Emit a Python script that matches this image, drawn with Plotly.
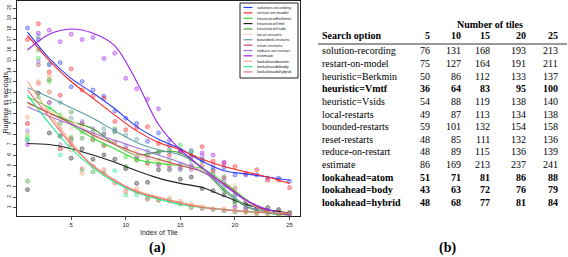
import plotly.graph_objects as go

W, H = 568, 257

# ---------------- data: panel (a) ----------------
tile_index = list(range(1, 26))
fit_index = [1, 3, 5, 7, 9, 11, 13, 15, 17, 19, 21, 23, 25]

search_options = ["solution-recording", "restart-on-model", "heuristic=Berkmin", "heuristic=Vmtf",
                  "heuristic=Vsids", "local-restarts", "bounded-restarts", "reset-restarts",
                  "reduce-on-restart", "estimate", "lookahead=atom", "lookahead=body", "lookahead=hybrid"]

runtime_solution_recording = [18.1, 17.0, 14.6, 14.8, 12.5, 13.0, 12.2, 11.6, 10.2, 9.5, 9.0, 7.3, 8.1, 7.4, 5.1,
                              6.4, 5.6, 4.6, 4.8, 4.1, 4.1, 4.1, 3.8, 3.8, 3.5]
runtime_restart_on_model = [17.0, 18.5, 13.9, 11.7, 14.2, 12.2, 11.6, 11.4, 9.2, 8.4, 8.6, 8.7, 7.1, 6.0, 6.3,
                            5.8, 6.8, 5.4, 5.2, 4.9, 4.25, 4.6, 3.6, 3.6, 2.9]
runtime_berkmin = [7.8, 15.2, 13.0, 9.8, 7.7, 8.2, 7.4, 6.9, 8.5, 5.8, 5.6, 5.3, 5.5, 5.5, 6.95,
                   6.3, 4.5, 4.0, 3.0, 2.2, 1.6, 0.9, 0.6, 0.5, 0.4]
runtime_vmtf = [2.7, 11.9, 8.1, 7.8, 5.7, 6.6, 5.6, 6.0, 5.6, 4.7, 3.3, 3.4, 4.6, 4.6, 3.7,
                3.9, 2.8, 2.6, 2.2, 1.6, 1.3, 1.0, 1.0, 0.8, 0.5]
runtime_vsids = [3.5, 16.0, 13.2, 9.0, 10.1, 7.6, 8.2, 8.0, 8.2, 4.9, 5.5, 6.0, 6.3, 6.5, 6.5,
                 6.0, 5.4, 4.2, 2.6, 1.3, 0.6, 0.4, 0.4, 0.3, 0.4]
runtime_local_restarts = [8.0, 11.5, 12.0, 9.5, 8.5, 8.8, 7.6, 7.7, 7.3, 6.6, 6.4, 5.0, 5.2, 4.6, 4.8,
                          4.9, 4.6, 4.4, 4.0, 3.1, 1.6, 1.0, 0.6, 0.5, 0.3]
runtime_bounded_restarts = [7.4, 17.3, 14.7, 11.0, 9.5, 9.0, 7.9, 8.5, 8.3, 7.9, 7.5, 6.4, 6.2, 6.3, 4.6,
                            5.5, 5.5, 4.8, 3.9, 2.3, 1.5, 1.0, 0.6, 0.5, 0.4]
runtime_reset_restarts = [9.0, 14.6, 11.0, 6.6, 7.0, 9.0, 7.5, 6.9, 7.2, 6.6, 5.8, 5.2, 5.1, 5.0, 4.9,
                          4.8, 5.0, 4.5, 3.8, 2.8, 1.6, 1.0, 0.6, 0.5, 0.3]
runtime_reduce_on_restart = [8.3, 14.9, 11.0, 7.0, 7.4, 9.2, 8.5, 8.0, 8.4, 6.9, 5.9, 5.7, 5.0, 4.7, 4.7,
                             4.6, 5.9, 5.0, 3.5, 2.0, 1.0, 0.8, 0.6, 0.4, 0.3]
runtime_estimate = [7.0, 17.6, 17.9, 16.8, 17.5, 17.0, 17.2, 15.2, 15.7, 13.3, 12.3, 11.3, 10.4, 6.9, 6.3,
                    5.0, 6.2, 6.0, 5.3, 1.0, 0.9, 0.8, 0.7, 0.6, 0.5]
runtime_atom = [9.6, 13.0, 13.5, 8.5, 6.5, 4.25, 4.4, 4.2, 3.5, 2.8, 2.8, 1.8, 1.7, 1.9, 1.6,
                1.3, 1.1, 0.9, 0.9, 0.8, 0.5, 0.4, 0.4, 0.4, 0.3]
runtime_body = [7.5, 11.5, 10.5, 6.0, 7.5, 4.6, 4.4, 4.3, 4.5, 2.2, 2.2, 1.9, 1.7, 1.7, 1.3,
                1.0, 0.9, 0.8, 0.7, 0.6, 0.7, 0.6, 0.6, 0.6, 0.5]
runtime_hybrid = [9.0, 12.8, 12.0, 6.6, 7.6, 4.7, 4.9, 4.6, 3.3, 2.5, 2.5, 1.8, 1.7, 1.6, 1.4,
                  1.0, 0.9, 0.8, 0.7, 0.6, 0.7, 0.6, 0.6, 0.6, 0.5]

fit_solution_recording = [17.7, 15.2, 13.3, 11.9, 10.4, 8.7, 7.5, 6.6, 5.4, 4.5, 4.2, 3.9, 3.6]
fit_restart_on_model = [17.4, 15.0, 13.0, 11.4, 9.8, 8.3, 7.2, 6.5, 5.6, 4.9, 4.4, 3.9, 3.3]
fit_berkmin = [11.5, 10.5, 8.9, 7.6, 6.6, 5.6, 5.2, 5.0, 4.7, 3.4, 1.8, 0.5, 0.3]
fit_vmtf = [7.1, 7.0, 6.6, 6.0, 5.3, 4.5, 3.8, 3.3, 2.9, 2.1, 1.3, 0.8, 0.45]
fit_vsids = [11.0, 10.0, 9.2, 8.5, 7.0, 6.0, 6.3, 6.2, 4.7, 2.6, 1.1, 0.5, 0.4]
fit_local_restarts = [10.8, 10.2, 9.3, 8.0, 7.0, 6.0, 5.4, 5.0, 4.6, 3.3, 1.6, 0.6, 0.3]
fit_bounded_restarts = [12.4, 11.5, 10.5, 9.5, 8.3, 7.2, 6.5, 6.0, 4.8, 2.8, 1.2, 0.5, 0.3]
fit_reset_restarts = [11.0, 10.0, 9.0, 7.9, 7.0, 6.2, 5.6, 5.0, 4.4, 3.3, 1.7, 0.6, 0.3]
fit_reduce_on_restart = [10.6, 9.7, 8.9, 8.1, 7.4, 6.7, 6.0, 5.3, 4.4, 3.1, 1.7, 0.8, 0.3]
fit_estimate = [16.0, 17.5, 18.0, 17.6, 16.4, 13.0, 8.9, 6.5, 4.8, 3.2, 1.7, 0.8, 0.3]
fit_atom = [13.0, 10.0, 7.2, 4.9, 3.5, 2.6, 2.0, 1.5, 1.1, 0.8, 0.65, 0.55, 0.45]
fit_body = [11.7, 9.0, 6.6, 4.8, 3.4, 2.4, 1.8, 1.3, 1.0, 0.8, 0.6, 0.5, 0.4]
fit_hybrid = [12.2, 9.6, 7.0, 5.0, 3.6, 2.5, 1.9, 1.4, 1.0, 0.8, 0.6, 0.5, 0.4]

series_colors = ["#2a3cff", "#ff2020", "#33dd33", "#222222", "#4a9a3a", "#f0d8b0", "#5f9ea0",
                 "#c85050", "#a070e0", "#a020f0", "#ffa07a", "#22ee88", "#f07070"]

series_points = [runtime_solution_recording, runtime_restart_on_model, runtime_berkmin, runtime_vmtf,
                 runtime_vsids, runtime_local_restarts, runtime_bounded_restarts, runtime_reset_restarts,
                 runtime_reduce_on_restart, runtime_estimate, runtime_atom, runtime_body, runtime_hybrid]
series_fits = [fit_solution_recording, fit_restart_on_model, fit_berkmin, fit_vmtf, fit_vsids,
               fit_local_restarts, fit_bounded_restarts, fit_reset_restarts, fit_reduce_on_restart,
               fit_estimate, fit_atom, fit_body, fit_hybrid]

y_ticks = list(range(1, 21))
x_ticks = [5, 10, 15, 20, 25]

# ---------------- data: panel (b) ----------------
tile_counts = [5, 10, 15, 20, 25]
total_5 = [76, 75, 50, 36, 54, 49, 59, 48, 48, 86, 51, 43, 48]
total_10 = [131, 127, 86, 64, 88, 87, 101, 85, 89, 169, 71, 63, 68]
total_15 = [168, 164, 112, 83, 119, 113, 132, 111, 115, 213, 81, 72, 77]
total_20 = [193, 191, 133, 95, 138, 134, 154, 132, 136, 237, 86, 76, 81]
total_25 = [213, 211, 137, 100, 140, 138, 158, 136, 139, 241, 88, 79, 84]
bold_options = ["heuristic=Vmtf", "lookahead=atom", "lookahead=body", "lookahead=hybrid"]


def rgba(hexc, a):
    h = hexc.lstrip("#")
    r, g, b = int(h[0:2], 16), int(h[2:4], 16), int(h[4:6], 16)
    return f"rgba({r},{g},{b},{a})"


def px(x):
    return x / W


def py(y):
    return 1 - y / H


fig = go.Figure()

for name, col, pts in zip(search_options, series_colors, series_points):
    fig.add_trace(go.Scatter(
        x=tile_index, y=pts, mode="markers", name=name, showlegend=False, hoverinfo="skip",
        marker=dict(size=4, color=rgba(col, 0.35), line=dict(color=rgba(col, 0.75), width=0.6)),
    ))
for name, col, fit in zip(search_options, series_colors, series_fits):
    fig.add_trace(go.Scatter(
        x=fit_index, y=fit, mode="lines", name=name, showlegend=False, hoverinfo="skip",
        line=dict(color=col, width=1.1, shape="spline", smoothing=0.9),
    ))

sans = "Liberation Sans, Arial, sans-serif"
serif = "Liberation Serif, Times New Roman, serif"

fig.update_layout(
    width=W, height=H, margin=dict(l=0, r=0, t=0, b=0),
    paper_bgcolor="white", plot_bgcolor="white", showlegend=False,
    xaxis=dict(domain=[px(17), px(300)], range=[0.04, 25.96], tickvals=x_ticks,
               ticks="outside", ticklen=3, tickwidth=0.8, tickcolor="#222",
               showline=True, mirror=True, linecolor="#222", linewidth=1,
               showgrid=False, zeroline=False, tickfont=dict(size=6, family=sans, color="#222")),
    yaxis=dict(domain=[py(216), py(1)], range=[0.19, 20.67], tickvals=y_ticks,
               ticks="outside", ticklen=3, tickwidth=0.8, tickcolor="#222", tickangle=-90,
               showline=True, mirror=True, linecolor="#222", linewidth=1,
               showgrid=False, zeroline=False, tickfont=dict(size=5, family=sans, color="#222")),
)

annotations = []
shapes = []


def note(x, y, text, size, family, xanchor="center", yanchor="middle", angle=0, color="black"):
    annotations.append(dict(x=px(x), y=py(y), xref="paper", yref="paper", text=text,
                            xanchor=xanchor, yanchor=yanchor, textangle=angle, showarrow=False,
                            borderpad=0, font=dict(size=size, family=family, color=color)))


# axis titles and panel labels
note(159, 232, "Index of Tile", 7, sans, color="#222")
note(4.5, 103, "Runtime in seconds", 7, sans, angle=-90, color="#222")
note(157, 248, "<b>(a)</b>", 14, serif)
note(447, 248, "<b>(b)</b>", 14, serif)

# legend (drawn manually)
shapes.append(dict(type="rect", xref="paper", yref="paper", x0=px(240), x1=px(298), y0=py(78), y1=py(3),
                   line=dict(color="#222", width=1), fillcolor="white", layer="above"))
leg_top, leg_step = 7.5, 5.37
for i, (name, col) in enumerate(zip(search_options, series_colors)):
    yy = leg_top + i * leg_step
    shapes.append(dict(type="line", xref="paper", yref="paper", x0=px(243.5), x1=px(252.5),
                       y0=py(yy), y1=py(yy), line=dict(color=col, width=1.2), layer="above"))
    note(256, yy, name, 4.3, sans, xanchor="left", color="#222")

# table
tfs = 10
note(490, 24, "<b>Number of tiles</b>", tfs, serif)
note(321, 36, "<b>Search option</b>", tfs, serif, xanchor="left")
col_right = [431, 462, 491, 527, 559]
for cx, t in zip(col_right, tile_counts):
    note(cx, 36, f"<b>{t}</b>", tfs, serif, xanchor="right")
shapes.append(dict(type="line", xref="paper", yref="paper", x0=px(318), x1=px(567), y0=py(44), y1=py(44),
                   line=dict(color="#333", width=1)))
columns = [total_5, total_10, total_15, total_20, total_25]
row_top, row_step = 51, 12.6
for i, name in enumerate(search_options):
    yy = row_top + i * row_step
    bold = name in bold_options
    wrap = (lambda s: f"<b>{s}</b>") if bold else (lambda s: str(s))
    note(321, yy, wrap(name), tfs, serif, xanchor="left")
    for cx, colvals in zip(col_right, columns):
        note(cx, yy, wrap(colvals[i]), tfs, serif, xanchor="right")

fig.update_layout(annotations=annotations, shapes=shapes, hovermode=False)
fig.write_html("out.html", config={"displayModeBar": False, "staticPlot": True},
               post_script="document.body.style.margin='0';document.body.style.overflow='hidden';")
